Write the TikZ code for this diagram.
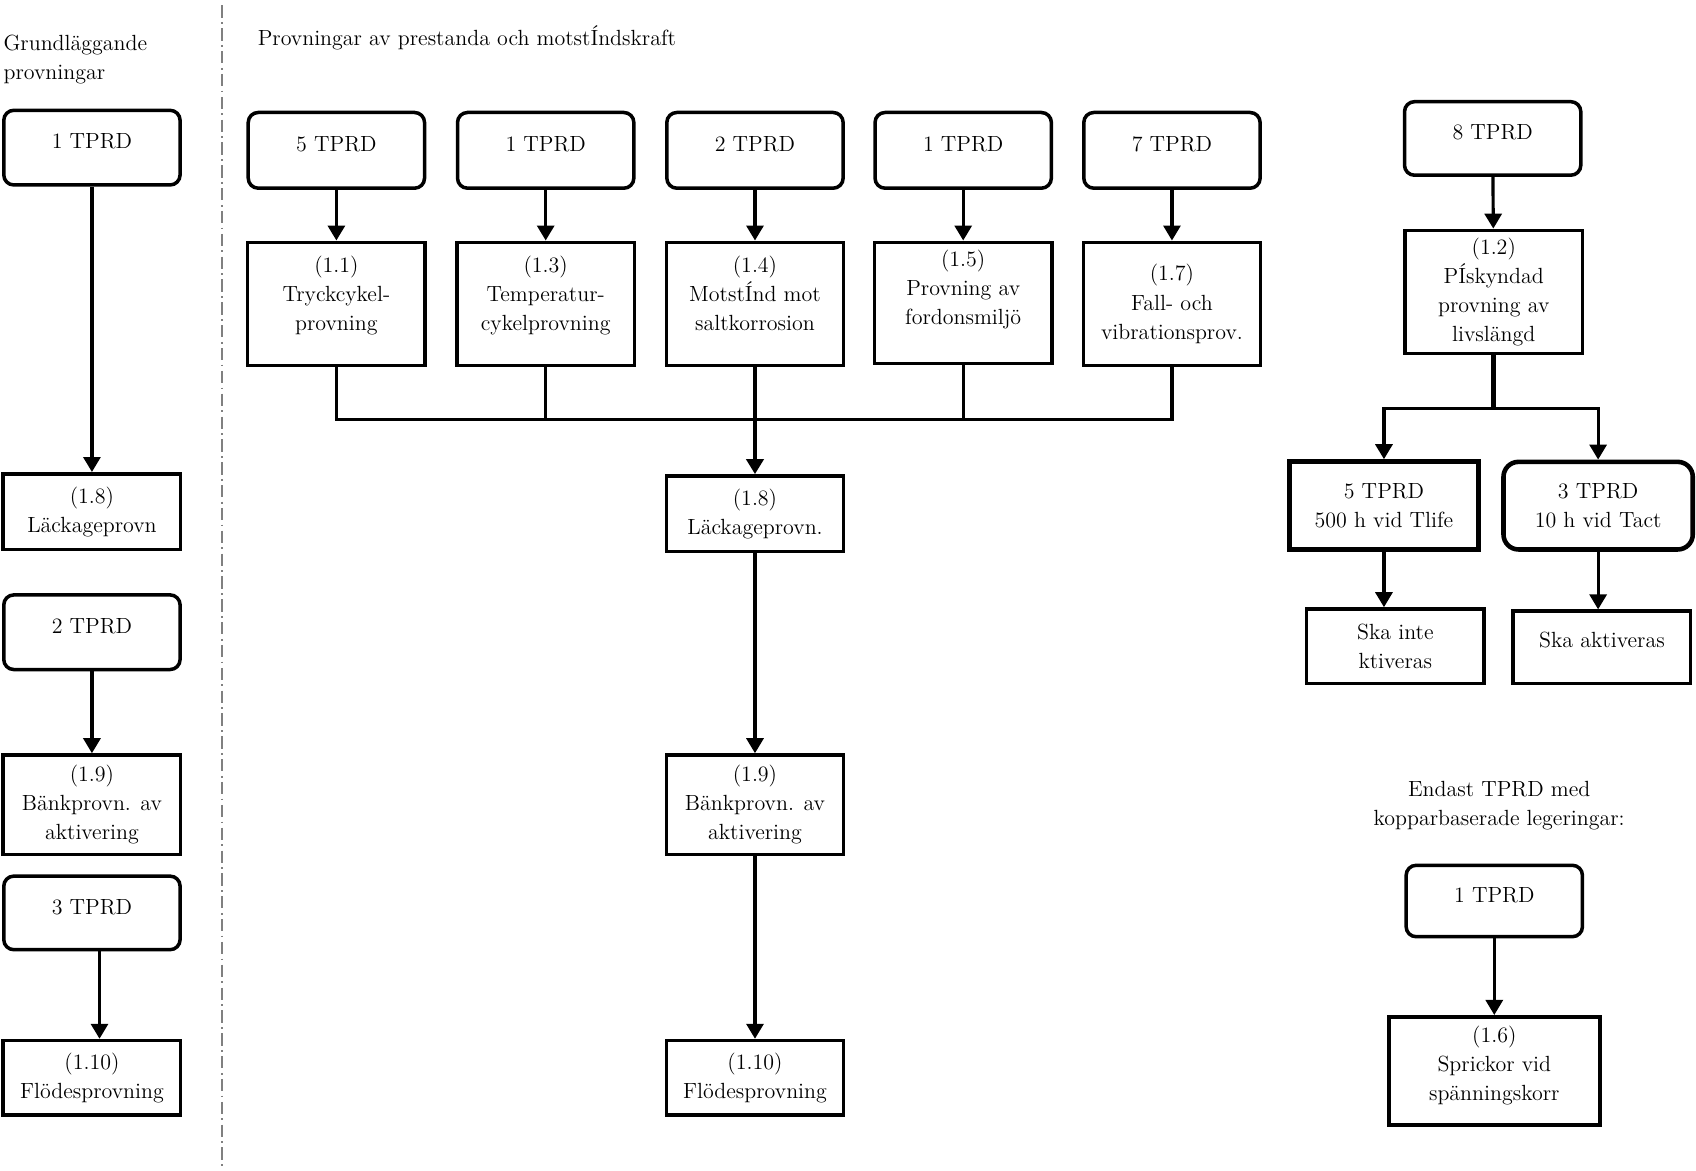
\documentclass[tikz,border=0pt]{standalone}
\usetikzlibrary{arrows.meta, positioning}
\def\upx{0.021632cm}
\newcommand\lowpad[1]{\rule[-#1]{0pt}{0pt}}
\tikzset{
  every node/.style={font=\fontsize{12.5}{16.6}\selectfont},
  tprd/.style={draw, line width=2pt, rounded corners=0.2cm, minimum width=163*\upx, minimum height=69*\upx, text depth=7pt, inner sep=2pt},
  testbox/.style={draw, line width=2pt, align=center, minimum width=164*\upx, inner sep=2pt},
  link/.style={line width=1.8pt, -{Triangle[length=0.3cm, width=0.34cm]}},
  wire/.style={line width=1.8pt},
}
\begin{document}
\begin{tikzpicture}[x=\upx, y=-\upx]
  \useasboundingbox (0,0) rectangle (1568,1082);
  % split between the two groups
  \draw[gray, line width=1pt, dash pattern=on 7pt off 2.5pt on 1pt off 2.5pt] (205,5) -- (205,1080);
  \node[anchor=west, align=left, inner sep=0pt] (hbasic) at (3,55) {Grundläggande\\provningar};
  \node[anchor=west, inner sep=0pt] (hperf) at (238,35) {Provningar av prestanda och motstÍndskraft};

  % basic tests
  \node[tprd] (ltp1) at (85,136.5) {1 TPRD};
  \node[testbox, minimum height=70*\upx] (l18) at (85,473) {(1.8)\\Läckageprovn};
  \node[tprd] (ltp2) at (85,584.5) {2 TPRD};
  \node[testbox, minimum height=92*\upx] (l19) at (85,744) {(1.9)\\Bänkprovn. av\\aktivering};
  \node[tprd, minimum height=68*\upx] (ltp3) at (85,844) {3 TPRD};
  \node[testbox, minimum height=69*\upx] (l110) at (85,996.5) {(1.10)\\Flödesprovning};
  \draw[link] (ltp1) -- (l18);
  \draw[link] (ltp2) -- (l19);
  \draw[link] ([xshift=7*\upx]ltp3.south) -- ([xshift=7*\upx]ltp3.south |- l110.north);

  % performance tests
  \node[tprd, minimum height=70*\upx] (t11) at (311,139) {5 TPRD};
  \node[tprd, minimum height=70*\upx] (t13) at (504.5,139) {1 TPRD};
  \node[tprd, minimum height=70*\upx] (t14) at (698,139) {2 TPRD};
  \node[tprd, minimum height=70*\upx] (t15) at (890.5,139) {1 TPRD};
  \node[tprd, minimum height=70*\upx] (t17) at (1083.5,139) {7 TPRD};
  \node[testbox, minimum height=114*\upx] (b11) at (311,281) {(1.1)\\Tryckcykel-\\provning\lowpad{12.5pt}};
  \node[testbox, minimum height=114*\upx] (b13) at (504.5,281) {(1.3)\\Temperatur-\\cykelprovning\lowpad{12.5pt}};
  \node[testbox, minimum height=114*\upx] (b14) at (698,281) {(1.4)\\MotstÍnd mot\\saltkorrosion\lowpad{12.5pt}};
  \node[testbox, minimum height=112*\upx] (b15) at (890.5,280) {(1.5)\\Provning av\\fordonsmiljö\lowpad{17.5pt}};
  \node[testbox, minimum height=114*\upx] (b17) at (1083.5,281) {(1.7)\\Fall- och\\vibrationsprov.};
  \foreach \k in {11,13,14,15,17}
    \draw[link] (t\k) -- (b\k);
  \coordinate (bus) at (698,388);
  \draw[wire] (b11) |- (bus);
  \draw[wire] (b13) |- (bus);
  \draw[wire] (b14) -- (bus);
  \draw[wire] (b15) |- (bus);
  \draw[wire] (b17) |- (bus);
  \node[testbox, minimum height=70*\upx] (m18) at (698,475) {(1.8)\\Läckageprovn.};
  \node[testbox, minimum height=92*\upx] (m19) at (698,744) {(1.9)\\Bänkprovn. av\\aktivering};
  \node[testbox, minimum height=69*\upx] (m110) at (698,996.5) {(1.10)\\Flödesprovning};
  \draw[link, line width=2.6pt] (bus) -- (m18);
  \draw[link] (m18) -- (m19);
  \draw[link] (m19) -- (m110);

  % life test
  \node[tprd, minimum height=68*\upx] (rtp8) at (1380,128) {8 TPRD};
  \node[testbox, minimum height=114*\upx] (r12) at (1381,270) {(1.2)\\PÍskyndad\\provning av\\livslängd};
  \draw[link] (rtp8) -- (r12);
  \coordinate (fork) at (1381,378);
  \node[testbox, line width=3pt, minimum width=175*\upx, minimum height=81*\upx] (r5) at (1279.5,467.5) {5 TPRD\\500 h vid Tlife};
  \node[testbox, line width=2.6pt, rounded corners=0.3cm, minimum width=175*\upx, minimum height=81*\upx] (r3) at (1477.5,467.5) {3 TPRD\\10 h vid Tact};
  \draw[wire, line width=3pt] (r12) -- (fork);
  \draw[link] (fork) -| (r5);
  \draw[link] (fork) -| (r3);
  \node[testbox, minimum height=69*\upx] (ska1) at (1290,597.5) {Ska inte\\ktiveras};
  \node[testbox, minimum height=67*\upx] (ska2) at (1481,598.5) {Ska aktiveras\lowpad{9pt}};
  \draw[link] (r5.south) -- (r5.south |- ska1.north);
  \draw[link] (r3.south) -- (r3.south |- ska2.north);

  % copper alloys
  \node[align=center] (cunote) at (1386,745) {Endast TPRD med\\kopparbaserade legeringar:};
  \node[tprd, minimum height=66*\upx] (rtp1) at (1381.5,833) {1 TPRD};
  \node[testbox, minimum width=195*\upx, minimum height=100*\upx] (r16) at (1381.5,990) {(1.6)\\Sprickor vid\\spänningskorr\lowpad{8.7pt}};
  \draw[link] (rtp1) -- (r16);
\end{tikzpicture}
\end{document}
